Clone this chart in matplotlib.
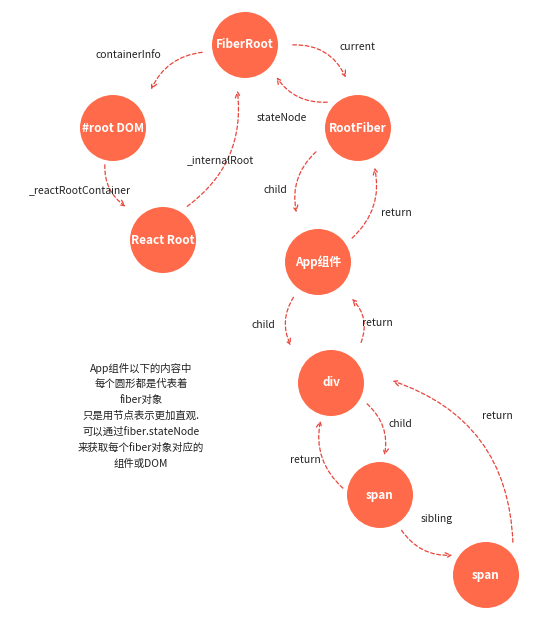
import matplotlib
matplotlib.use("Agg")
import matplotlib.pyplot as plt
from matplotlib.patches import Circle, FancyArrowPatch

plt.rcParams["font.family"] = ["Noto Sans CJK SC", "DejaVu Sans"]

FILL = "#ff6b4a"
LINE = "#e8453c"

node_names = ["FiberRoot", "#root DOM", "React Root", "RootFiber", "App组件", "div", "span", "span2"]
node_labels = ["FiberRoot", "#root DOM", "React Root", "RootFiber", "App组件", "div", "span", "span"]
node_x = [245, 113, 163, 358, 318, 331, 380, 486]
node_y = [45, 128, 240, 128, 262, 383, 495, 575]
node_r = 33

# (start, end, label, label position, curvature)
edge_start = [(205, 52), (105, 162), (185, 208), (290, 45), (330, 102), (318, 150), (350, 240),
              (295, 295), (360, 345), (365, 402), (345, 490), (400, 528), (513, 545)]
edge_end = [(150, 92), (128, 208), (237, 88), (347, 80), (275, 75), (297, 215), (374, 165),
            (292, 348), (350, 297), (384, 458), (321, 418), (455, 555), (390, 380)]
edge_labels = ["containerInfo", "_reactRootContainer", "_internalRoot", "current", "stateNode",
               "child", "return", "child", "return", "child", "return", "sibling", "return"]
label_pos = [(128, 55), (80, 190), (220, 160), (357, 47), (282, 118), (275, 190), (396, 213),
             (263, 325), (377, 323), (400, 424), (305, 460), (437, 519), (497, 416)]
edge_rad = [0.3, 0.3, 0.3, -0.35, -0.3, 0.3, 0.3, 0.3, 0.35, -0.3, -0.3, 0.3, 0.35]

note_lines = ["App组件以下的内容中", "每个圆形都是代表着", "fiber对象", "只是用节点表示更加直观.",
              "可以通过fiber.stateNode", "来获取每个fiber对象对应的", "组件或DOM"]

fig = plt.figure(figsize=(5.45, 6.3), dpi=100)
ax = fig.add_axes([0, 0, 1, 1])
ax.set_xlim(0, 545)
ax.set_ylim(630, 0)
ax.set_aspect("equal")
ax.axis("off")

for x, y, lab in zip(node_x, node_y, node_labels):
    ax.add_patch(Circle((x, y), node_r, facecolor=FILL, edgecolor="none", zorder=2))
    ax.text(x, y, lab, color="white", fontsize=8.5, fontweight="bold",
            ha="center", va="center", zorder=3)

for s, e, lab, lp, rad in zip(edge_start, edge_end, edge_labels, label_pos, edge_rad):
    arrow = FancyArrowPatch(s, e, connectionstyle=f"arc3,rad={rad}", arrowstyle="->",
                            mutation_scale=10, color=LINE, linestyle=(0, (3, 2)), lw=0.9)
    ax.add_patch(arrow)
    ax.text(lp[0], lp[1], lab, fontsize=7.5, ha="center", va="center", color="#222222")

for i, line in enumerate(note_lines):
    ax.text(141, 368 + i * 16, line, fontsize=7.5, ha="center", va="center", color="#222222")

fig.savefig("out.png", dpi=100, facecolor="white")
